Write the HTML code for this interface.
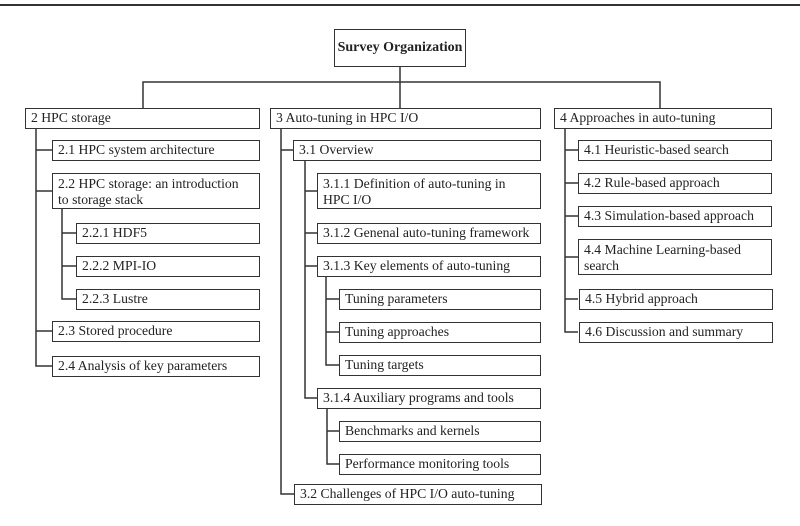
<!DOCTYPE html>
<html><head><meta charset="utf-8"><style>
body{margin:0;width:800px;height:526px;background:#fff;position:relative;overflow:hidden;font-family:"Liberation Serif",serif;color:#222}
.b{position:absolute;border:1.5px solid #333;box-sizing:border-box;font-size:13.7px;line-height:16px;padding:1px 0 0 5px;background:#fff;white-space:nowrap}
.t{padding-top:2px}
svg{position:absolute;left:0;top:0}
</style></head><body>
<svg width="800" height="526" stroke="#333" stroke-width="1.5" fill="none">
<line x1="0" y1="5" x2="800" y2="5" stroke-width="2"/>
<line x1="400" y1="67" x2="400" y2="82"/>
<polyline points="143,108 143,82 660,82 660,108"/>
<line x1="400" y1="82" x2="400" y2="108"/>
<polyline points="36,128 36,366 52,366"/>
<line x1="36" y1="150" x2="52" y2="150"/>
<line x1="36" y1="191" x2="52" y2="191"/>
<line x1="36" y1="331" x2="52" y2="331"/>
<polyline points="62,209 62,299 76,299"/>
<line x1="62" y1="233" x2="76" y2="233"/>
<line x1="62" y1="266" x2="76" y2="266"/>
<polyline points="281,128 281,494 294,494"/>
<line x1="281" y1="150" x2="293" y2="150"/>
<polyline points="305,160 305,398 317,398"/>
<line x1="305" y1="191" x2="317" y2="191"/>
<line x1="305" y1="233" x2="317" y2="233"/>
<line x1="305" y1="266" x2="317" y2="266"/>
<polyline points="326,276 326,365 339,365"/>
<line x1="326" y1="299" x2="339" y2="299"/>
<line x1="326" y1="332" x2="339" y2="332"/>
<polyline points="327,408 327,464 339,464"/>
<line x1="327" y1="431" x2="339" y2="431"/>
<polyline points="565,128 565,332 578,332"/>
<line x1="565" y1="150" x2="578" y2="150"/>
<line x1="565" y1="183" x2="578" y2="183"/>
<line x1="565" y1="216" x2="578" y2="216"/>
<line x1="565" y1="257" x2="578" y2="257"/>
<line x1="565" y1="299" x2="578" y2="299"/>
</svg>
<div class="b" style="left:334px;top:29px;width:132px;height:38px;font-weight:bold;font-size:14px;padding:10px 0 0 0;text-align:center">Survey Organization</div>

<div class="b" style="left:25px;top:108px;width:235px;height:21px">2 HPC storage</div>
<div class="b" style="left:52px;top:140px;width:208px;height:21px">2.1 HPC system architecture</div>
<div class="b t" style="left:52px;top:173px;width:208px;height:36px">2.2 HPC storage: an introduction<br>to storage stack</div>
<div class="b" style="left:76px;top:223px;width:184px;height:21px">2.2.1 HDF5</div>
<div class="b" style="left:76px;top:256px;width:184px;height:21px">2.2.2 MPI-IO</div>
<div class="b" style="left:76px;top:289px;width:184px;height:21px">2.2.3 Lustre</div>
<div class="b" style="left:52px;top:321px;width:208px;height:21px">2.3 Stored procedure</div>
<div class="b" style="left:52px;top:356px;width:208px;height:21px">2.4 Analysis of key parameters</div>

<div class="b" style="left:270px;top:108px;width:271px;height:21px">3 Auto-tuning in HPC I/O</div>
<div class="b" style="left:293px;top:140px;width:248px;height:21px">3.1 Overview</div>
<div class="b t" style="left:317px;top:173px;width:224px;height:36px">3.1.1 Definition of auto-tuning in<br>HPC I/O</div>
<div class="b" style="left:317px;top:223px;width:224px;height:21px">3.1.2 Genenal auto-tuning framework</div>
<div class="b" style="left:317px;top:256px;width:224px;height:21px">3.1.3 Key elements of auto-tuning</div>
<div class="b" style="left:339px;top:289px;width:202px;height:21px">Tuning parameters</div>
<div class="b" style="left:339px;top:322px;width:202px;height:21px">Tuning approaches</div>
<div class="b" style="left:339px;top:355px;width:202px;height:21px">Tuning targets</div>
<div class="b" style="left:317px;top:388px;width:224px;height:21px">3.1.4 Auxiliary programs and tools</div>
<div class="b" style="left:339px;top:421px;width:202px;height:21px">Benchmarks and kernels</div>
<div class="b" style="left:339px;top:454px;width:202px;height:21px">Performance monitoring tools</div>
<div class="b" style="left:294px;top:484px;width:248px;height:21px">3.2 Challenges of HPC I/O auto-tuning</div>

<div class="b" style="left:554px;top:108px;width:218px;height:21px">4 Approaches in auto-tuning</div>
<div class="b" style="left:578px;top:140px;width:194px;height:21px">4.1 Heuristic-based search</div>
<div class="b" style="left:578px;top:173px;width:194px;height:21px">4.2 Rule-based approach</div>
<div class="b" style="left:578px;top:206px;width:194px;height:21px">4.3 Simulation-based approach</div>
<div class="b t" style="left:578px;top:239px;width:194px;height:36px">4.4 Machine Learning-based<br>search</div>
<div class="b" style="left:579px;top:289px;width:194px;height:21px">4.5 Hybrid approach</div>
<div class="b" style="left:579px;top:322px;width:194px;height:21px">4.6 Discussion and summary</div>
</body></html>
